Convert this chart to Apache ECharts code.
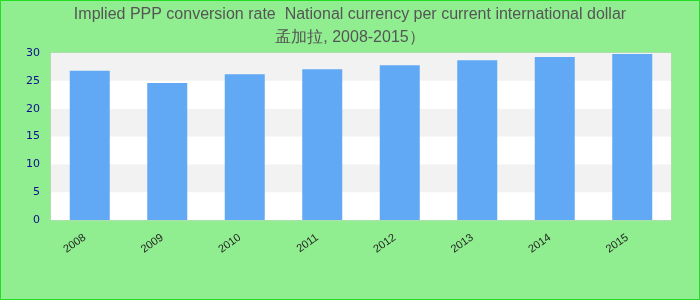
<!DOCTYPE html>
<html><head><meta charset="utf-8">
<script src="https://cdn.jsdelivr.net/npm/echarts@6/dist/echarts.min.js"></script>
<style>html,body{margin:0;padding:0;background:#90ee90}#c{width:700px;height:300px}</style>
</head><body><div id="c"></div>
<script>
var titleLine1 = 'Implied PPP conversion rate  National currency per current international dollar';
var titleLine2 = '孟加拉, 2008-2015）';
var categories = ['2008','2009','2010','2011','2012','2013','2014','2015'];
var values = [26.8, 24.6, 26.2, 27.1, 27.8, 28.7, 29.3, 29.8];
var yTicks = [0, 5, 10, 15, 20, 25, 30];

var chart = echarts.init(document.getElementById('c'), null, {renderer:'canvas'});
chart.setOption({
  backgroundColor: '#90ee90',
  animation: false,
  graphic: [{type:'rect', shape:{x:0.5,y:0.5,width:699,height:299}, style:{fill:'none', stroke:'#22dd22', lineWidth:1}, silent:true, z:100}],
  title: {
    text: titleLine1 + '\n' + titleLine2,
    left: 'center', top: -2,
    textStyle: {fontFamily:'Liberation Sans, Arial, sans-serif', fontSize:16, fontWeight:'normal', color:'#555555', lineHeight:23}
  },
  grid: {left:51, right:29, top:53, bottom:80, show:true, borderColor:'#cccccc', borderWidth:1, backgroundColor:'#ffffff'},
  xAxis: {
    type:'category', data: categories,
    axisLine:{show:false}, axisTick:{show:false},
    axisLabel:{rotate:35, margin:13, padding:[0,6,0,0], fontSize:11, color:'#222222', fontFamily:'Liberation Sans, Arial, sans-serif'}
  },
  yAxis: {
    type:'value', min:yTicks[0], max:yTicks[yTicks.length-1], interval:5,
    axisLine:{show:false}, axisTick:{show:false},
    splitLine:{show:false},
    splitArea:{show:true, areaStyle:{color:['#ffffff','#f2f2f2']}},
    axisLabel:{fontSize:11, color:'#0d0d8c', margin:11, fontFamily:'DejaVu Sans, sans-serif'}
  },
  series: [{type:'bar', data: values, barWidth:40, itemStyle:{color:'#61a9f4'}}]
});
</script></body></html>
